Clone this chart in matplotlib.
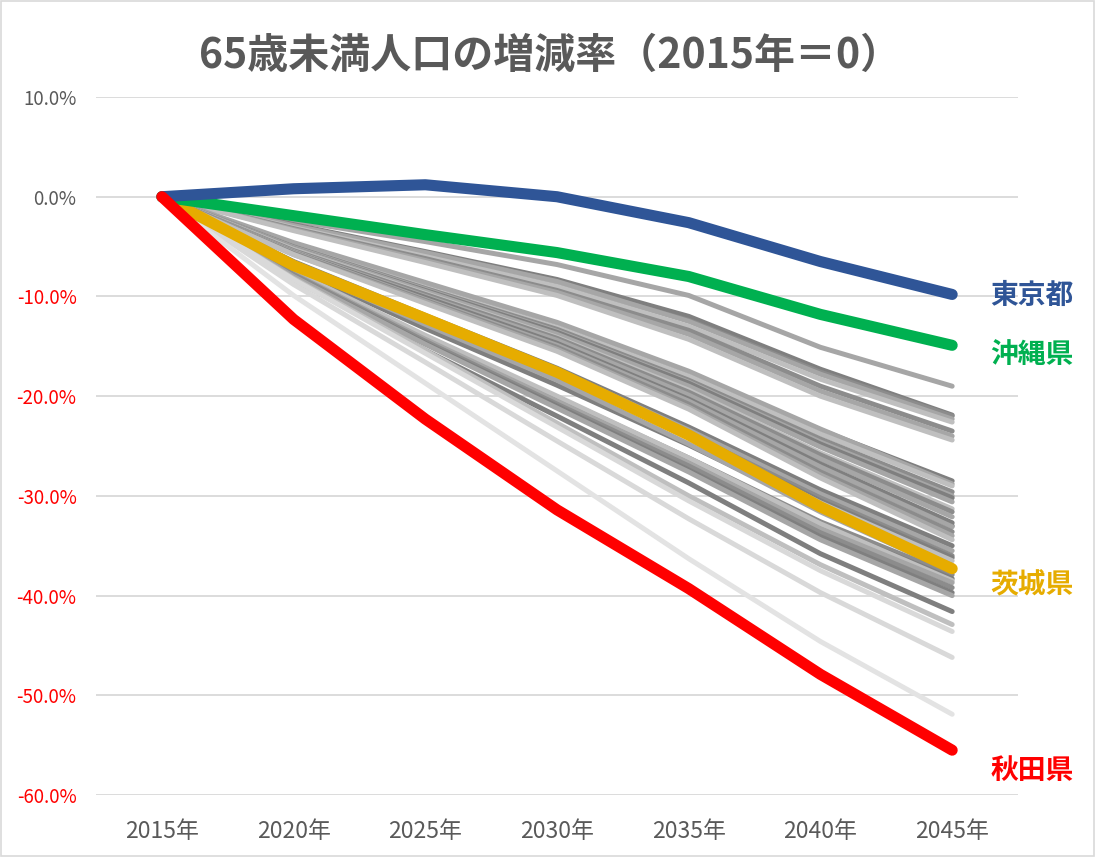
import matplotlib
matplotlib.use("Agg")
import matplotlib.pyplot as plt
from matplotlib.patches import Rectangle

plt.rcParams['font.family'] = ['Noto Sans CJK JP', 'DejaVu Sans']

years = ["2015年", "2020年", "2025年", "2030年", "2035年", "2040年", "2045年"]

tokyo = [0.0, 0.8, 1.2, 0.0, -2.6, -6.5, -9.8]
okinawa = [0.0, -1.9, -3.8, -5.6, -8.0, -11.8, -14.9]
ibaraki = [0.0, -6.9, -12.2, -17.6, -23.9, -31.1, -37.3]
akita = [0.0, -12.3, -22.3, -31.4, -39.3, -47.9, -55.5]

# other prefectures (values in %)
others = [
    [0, -2.4, -4.5, -6.8, -9.9, -15.1, -19.0],
    [0, -2.8, -5.5, -8.3, -12.0, -17.3, -21.9],
    [0, -3.0, -5.8, -8.7, -12.4, -17.6, -22.0],
    [0, -2.9, -5.6, -8.5, -12.5, -17.8, -22.3],
    [0, -3.1, -6.0, -9.0, -13.0, -18.3, -22.6],
    [0, -3.2, -6.2, -9.4, -13.4, -19.0, -23.5],
    [0, -3.3, -6.4, -9.6, -13.8, -19.5, -24.0],
    [0, -3.4, -6.6, -9.9, -14.3, -20.0, -24.4],
    [0, -4.8, -8.8, -12.8, -17.7, -23.4, -28.5],
    [0, -4.6, -8.6, -12.6, -17.5, -23.3, -28.8],
    [0, -5.0, -9.1, -13.1, -18.0, -23.8, -29.0],
    [0, -5.0, -9.2, -13.3, -18.4, -24.3, -29.6],
    [0, -5.1, -9.3, -13.5, -18.6, -24.6, -30.0],
    [0, -5.2, -9.4, -13.6, -18.7, -24.8, -30.2],
    [0, -5.2, -9.5, -13.8, -19.0, -25.1, -30.6],
    [0, -5.3, -9.7, -14.1, -19.4, -25.7, -31.3],
    [0, -5.4, -9.8, -14.2, -19.6, -25.9, -31.6],
    [0, -5.5, -10.0, -14.4, -19.9, -26.3, -32.1],
    [0, -5.6, -10.1, -14.7, -20.3, -26.8, -32.7],
    [0, -5.6, -10.2, -14.9, -20.5, -27.1, -33.0],
    [0, -5.6, -10.3, -14.9, -20.5, -27.1, -33.1],
    [0, -5.7, -10.4, -15.1, -20.8, -27.6, -33.6],
    [0, -5.8, -10.5, -15.3, -21.1, -27.9, -34.0],
    [0, -5.8, -10.7, -15.5, -21.3, -28.2, -34.4],
    [0, -6.5, -11.9, -17.2, -23.1, -29.4, -35.0],
    [0, -6.6, -12.1, -17.4, -23.4, -29.8, -35.5],
    [0, -6.7, -12.2, -17.6, -23.8, -30.2, -36.0],
    [0, -6.9, -12.6, -18.0, -24.0, -30.5, -36.2],
    [0, -6.8, -12.4, -17.9, -24.1, -30.7, -36.5],
    [0, -7.2, -13.2, -18.9, -24.9, -31.3, -37.0],
    [0, -7.0, -12.8, -18.4, -24.8, -31.6, -37.6],
    [0, -7.6, -14.0, -20.1, -26.2, -32.6, -37.9],
    [0, -7.7, -14.2, -20.3, -26.4, -32.9, -38.3],
    [0, -7.5, -13.9, -20.0, -26.2, -32.8, -38.5],
    [0, -7.7, -14.3, -20.5, -26.7, -33.3, -38.7],
    [0, -7.8, -14.5, -20.8, -27.0, -33.7, -39.2],
    [0, -8.0, -14.7, -21.0, -27.4, -34.1, -39.7],
    [0, -8.0, -14.8, -21.2, -27.6, -34.4, -40.0],
    [0, -8.3, -15.4, -22.0, -28.7, -35.8, -41.6],
    [0, -8.2, -15.4, -22.7, -30.0, -36.9, -42.9],
    [0, -8.3, -15.7, -23.1, -30.5, -37.5, -43.6],
    [0, -8.8, -16.6, -24.5, -32.3, -39.7, -46.2],
    [0, -9.9, -18.7, -27.5, -36.3, -44.6, -51.9],
]
other_colors = [
    "#a6a6a6", "#7f7f7f", "#8c8c8c", "#a6a6a6", "#bfbfbf", "#8c8c8c", "#a6a6a6", "#bfbfbf",
    "#7f7f7f", "#a6a6a6", "#bfbfbf", "#8c8c8c", "#a6a6a6", "#7f7f7f", "#a6a6a6", "#bfbfbf",
    "#8c8c8c", "#a6a6a6", "#7f7f7f", "#7f7f7f", "#a6a6a6", "#8c8c8c", "#a6a6a6", "#bfbfbf",
    "#7f7f7f", "#a6a6a6", "#8c8c8c", "#7f7f7f", "#bfbfbf", "#7f7f7f", "#a6a6a6", "#8c8c8c",
    "#7f7f7f", "#bfbfbf", "#a6a6a6", "#8c8c8c", "#7f7f7f", "#a6a6a6", "#7f7f7f", "#bfbfbf",
    "#d9d9d9", "#d9d9d9", "#e3e3e3",
]

yticks = [10, 0, -10, -20, -30, -40, -50, -60]

fig = plt.figure(figsize=(10.95, 8.57), dpi=100)
ax = fig.add_axes([0.0877, 0.0723, 0.842, 0.8145])

x = list(range(len(years)))
for vals, c in zip(others, other_colors):
    ax.plot(x, vals, color=c, lw=3.6, solid_capstyle='round', solid_joinstyle='round', zorder=2)

hl = [(ibaraki, "#E6AC00"), (okinawa, "#00B050"), (tokyo, "#2F5597"), (akita, "#FF0000")]
for vals, c in hl:
    ax.plot(x, vals, color=c, lw=8, solid_capstyle='round', solid_joinstyle='round', zorder=3)

ax.set_xlim(-0.5, 6.5)
ax.set_ylim(-60, 10)
ax.set_yticks(yticks)
ax.set_yticklabels([f"{v:.1f}%" for v in yticks])
for lab, v in zip(ax.get_yticklabels(), yticks):
    lab.set_color("#595959" if v >= 0 else "#FF0000")
ax.set_xticks(x)
ax.set_xticklabels(years, color="#595959")
ax.tick_params(axis='y', length=0, pad=14, labelsize=13.5)
ax.tick_params(axis='x', length=0, pad=18, labelsize=16.5)
ax.grid(axis='y', color="#d9d9d9", lw=1.3)
ax.set_axisbelow(True)
for s in ax.spines.values():
    s.set_visible(False)

lab_x = 6.29
ax.text(lab_x, -10.0, "東京都", color="#2F5597", fontsize=20, fontweight='bold', va='center', ha='left')
ax.text(lab_x, -15.9, "沖縄県", color="#00B050", fontsize=20, fontweight='bold', va='center', ha='left')
ax.text(lab_x, -39.0, "茨城県", color="#E6AC00", fontsize=20, fontweight='bold', va='center', ha='left')
ax.text(lab_x, -57.6, "秋田県", color="#FF0000", fontsize=20, fontweight='bold', va='center', ha='left')

fig.text(0.502, 0.935, "65歳未満人口の増減率（2015年＝0）", ha='center', va='center',
         fontsize=29.5, fontweight='bold', color="#595959")

fig.patches.append(Rectangle((0.001, 0.001), 0.998, 0.998, transform=fig.transFigure,
                             fill=False, edgecolor="#d9d9d9", lw=1.2))

fig.savefig("out.png", dpi=100)
